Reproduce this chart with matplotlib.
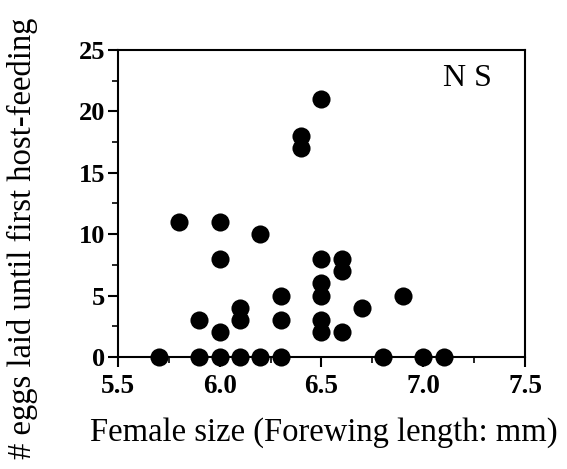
import numpy as np
import matplotlib
matplotlib.use("Agg")
import matplotlib.pyplot as plt
from matplotlib.ticker import MultipleLocator

# forewing length (mm) and eggs laid before first host-feeding
size_mm = [5.7, 5.9, 6.0, 6.1, 6.2, 6.3, 6.8, 7.0, 7.1,
           5.8, 6.0, 6.0, 6.2, 5.9, 6.0, 6.1, 6.1, 6.3, 6.3,
           6.4, 6.4, 6.5, 6.5, 6.5, 6.5, 6.5, 6.5,
           6.6, 6.6, 6.6, 6.7, 6.9]
eggs = [0, 0, 0, 0, 0, 0, 0, 0, 0,
        11, 11, 8, 10, 3, 2, 4, 3, 5, 3,
        18, 17, 21, 8, 6, 5, 3, 2,
        8, 7, 2, 4, 5]

x_ticks = [5.5, 6.0, 6.5, 7.0, 7.5]
y_ticks = [0, 5, 10, 15, 20, 25]

plt.rcParams['font.family'] = ['Liberation Serif', 'DejaVu Serif']

fig = plt.figure(figsize=(5.67, 4.69), dpi=100)
ax = fig.add_axes([0.208, 0.2388, 0.718, 0.6546])

ax.scatter(size_mm, eggs, s=170, color='black', zorder=5, clip_on=False, linewidths=0)

ax.set_xlim(5.5, 7.5)
ax.set_ylim(0, 25)
ax.set_xticks(x_ticks)
ax.set_xticklabels([f"{v:.1f}" for v in x_ticks])
ax.set_yticks(y_ticks)
ax.xaxis.set_minor_locator(MultipleLocator(0.25))
ax.yaxis.set_minor_locator(MultipleLocator(2.5))

for sp in ax.spines.values():
    sp.set_linewidth(1.5)

ax.tick_params(axis='both', which='major', direction='out', length=7, width=1.5)
ax.tick_params(axis='both', which='minor', direction='out', length=4, width=1.2)
ax.tick_params(axis='x', labelsize=19.5, pad=5)
ax.tick_params(axis='y', labelsize=19, pad=2)
for lab in ax.get_xticklabels() + ax.get_yticklabels():
    lab.set_fontweight('bold')

ax.set_xlabel('Female size (Forewing length: mm)', fontsize=23.5)
ax.xaxis.set_label_coords(0.505, -0.195)
ax.set_ylabel('# eggs laid until first host-feeding', fontsize=23.5)
ax.yaxis.set_label_coords(-0.197, 0.385)

ax.text(7.215, 22.7, 'N S', fontsize=23, ha='center', va='center')

plt.savefig("out.png", dpi=100)
